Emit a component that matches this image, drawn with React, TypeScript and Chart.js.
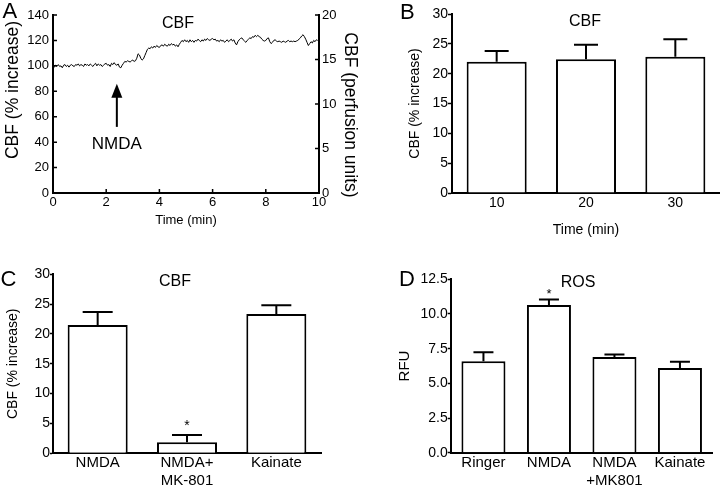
import React, { useEffect, useRef } from "react";
import { Chart, registerables } from "chart.js";

Chart.register(...registerables);

const FONT = "'Liberation Sans', Arial, Helvetica, sans-serif";
Chart.defaults.font.family = FONT;
Chart.defaults.color = "#000";

// ---------- Panel A: CBF time course ----------
const A_TIME = [
  0, 0.05, 0.1, 0.15, 0.2, 0.25, 0.3, 0.35, 0.4, 0.45,
  0.5, 0.55, 0.6, 0.65, 0.7, 0.75, 0.8, 0.85, 0.9, 0.95,
  1.0, 1.05, 1.1, 1.15, 1.2, 1.25, 1.3, 1.35, 1.4, 1.45,
  1.5, 1.55, 1.6, 1.65, 1.7, 1.75, 1.8, 1.85, 1.9, 1.95,
  2.0, 2.05, 2.1, 2.15, 2.2, 2.25, 2.3, 2.35, 2.4, 2.45,
  2.5, 2.55, 2.6, 2.65, 2.7, 2.75, 2.8, 2.85, 2.9, 2.95,
  3.0, 3.05, 3.1, 3.15, 3.2, 3.25, 3.3, 3.35, 3.4, 3.45,
  3.5, 3.55, 3.6, 3.65, 3.7, 3.75, 3.8, 3.85, 3.9, 3.95,
  4.0, 4.05, 4.1, 4.15, 4.2, 4.25, 4.3, 4.35, 4.4, 4.45,
  4.5, 4.55, 4.6, 4.65, 4.7, 4.75, 4.8, 4.85, 4.9, 4.95,
  5.0, 5.05, 5.1, 5.15, 5.2, 5.25, 5.3, 5.35, 5.4, 5.45,
  5.5, 5.55, 5.6, 5.65, 5.7, 5.75, 5.8, 5.85, 5.9, 5.95,
  6.0, 6.05, 6.1, 6.15, 6.2, 6.25, 6.3, 6.35, 6.4, 6.45,
  6.5, 6.55, 6.6, 6.65, 6.7, 6.75, 6.8, 6.85, 6.9, 6.95,
  7.0, 7.05, 7.1, 7.15, 7.2, 7.25, 7.3, 7.35, 7.4, 7.45,
  7.5, 7.55, 7.6, 7.65, 7.7, 7.75, 7.8, 7.85, 7.9, 7.95,
  8.0, 8.05, 8.1, 8.15, 8.2, 8.25, 8.3, 8.35, 8.4, 8.45,
  8.5, 8.55, 8.6, 8.65, 8.7, 8.75, 8.8, 8.85, 8.9, 8.95,
  9.0, 9.05, 9.1, 9.15, 9.2, 9.25, 9.3, 9.35, 9.4, 9.45,
  9.5, 9.55, 9.6, 9.65, 9.7, 9.75, 9.8, 9.85, 9.9, 9.95,
];
const A_CBF = [
  100, 99, 100.5, 99.5, 101, 99.5, 100, 98.5, 100.5, 101,
  99.5, 100.5, 99, 100.5, 101, 100, 99.5, 101, 100.5, 101.5,
  100, 101, 100.5, 99.5, 101.5, 100.5, 101, 100, 101.5, 100.5,
  99.5, 101, 102, 100, 101.5, 100.5, 101, 99.5, 100.5, 101.5,
  102, 100.5, 101, 99.5, 102, 101, 102.5, 101, 100.5, 101.5,
  99, 98.5, 100.5, 102, 103.5, 103, 104, 103.5, 103, 104,
  104.5, 103.5, 104, 106, 109.5, 108.5, 106, 104.5, 105.5, 108,
  110.5, 113, 114, 113.5, 115, 114, 115.5, 114.5, 116, 115,
  114.5, 116, 116.5, 115.5, 117, 116, 115.5, 117, 116, 117.5,
  116.5, 117, 115.5, 116.5, 115, 117, 118.5, 120, 119, 120.5,
  119, 120, 118.5, 120.5, 119, 120, 118.5, 120, 119.5, 121,
  120, 119, 120.5, 119.5, 121, 120, 121.5, 120.5, 120, 121,
  121.5, 120.5, 121, 119.5, 120, 119, 120.5, 119.5, 120, 118.5,
  119.5, 120.5, 119, 120, 121, 119.5, 120.5, 118, 116.5, 119,
  120.5, 121.5, 122, 120.5, 119.5, 118.5, 120, 121, 122, 121.5,
  123, 122.5, 124, 123, 124, 123, 122.5, 121, 120, 119.5,
  120, 121.5, 122, 119, 117.5, 118.5, 120, 120.5, 119.5, 119,
  119.5, 119, 118.5, 119.5, 119, 118.5, 119.5, 120, 119, 119.5,
  119, 119.5, 119, 119.5, 120, 121, 122, 123.5, 124.5, 123,
  121, 118.5, 116, 117.5, 119, 118, 120, 119, 120.5, 120,
];
const A_NMDA_TIME = 2.4;
const A_ARROW_TIP = 86;
const A_ARROW_BASE = 52;
const A_LABEL_LEVEL = 38.5;

// ---------- Panel B ----------
const B_CATEGORIES = ["10", "20", "30"];
const B_MEAN = [22.0, 22.4, 22.85];
const B_SEM = [1.8, 2.45, 2.9];

// ---------- Panel C ----------
const C_CATEGORIES: (string | string[])[] = ["NMDA", ["NMDA+", "MK-801"], "Kainate"];
const C_MEAN = [21.5, 1.85, 23.35];
const C_SEM = [2.2, 1.2, 1.45];
const C_SIG = [false, true, false];

// ---------- Panel D ----------
const D_CATEGORIES: (string | string[])[] = ["Ringer", "NMDA", ["NMDA", "+MK801"], "Kainate"];
const D_MEAN = [6.6, 10.65, 6.9, 6.1];
const D_SEM = [0.65, 0.4, 0.17, 0.46];
const D_SIG = [false, true, false, false];

// ---------- plugins ----------
const panelTitlePlugin = {
  id: "panelTitle",
  afterDraw(chart: any, _a: any, opts: any) {
    if (!opts || !opts.text) return;
    const { ctx, chartArea: ca } = chart;
    ctx.save();
    ctx.fillStyle = "#000";
    ctx.font = `${opts.size}px ${FONT}`;
    ctx.textAlign = "center";
    ctx.textBaseline = "middle";
    ctx.fillText(opts.text, ca.left + opts.fx * (ca.right - ca.left), ca.top + opts.dy);
    ctx.restore();
  },
};

const sideTitlesPlugin = {
  id: "sideTitles",
  afterDraw(chart: any, _a: any, opts: any) {
    if (!opts || !opts.items) return;
    const { ctx, chartArea: ca } = chart;
    opts.items.forEach((it: any) => {
      ctx.save();
      ctx.fillStyle = "#000";
      ctx.font = `${it.size}px ${FONT}`;
      ctx.textAlign = "center";
      ctx.textBaseline = "middle";
      const x = it.side === "left" ? ca.left + it.dx : ca.right + it.dx;
      ctx.translate(x, ca.top + it.dy);
      ctx.rotate(it.side === "left" ? -Math.PI / 2 : Math.PI / 2);
      ctx.fillText(it.text, 0, 0);
      ctx.restore();
    });
  },
};

const errorBarsPlugin = {
  id: "errorBars",
  afterDatasetsDraw(chart: any, _a: any, opts: any) {
    if (!opts || !opts.sem) return;
    const { ctx } = chart;
    const y = chart.scales.y;
    const meta = chart.getDatasetMeta(0);
    const data = chart.data.datasets[0].data;
    ctx.save();
    ctx.strokeStyle = "#000";
    ctx.lineWidth = 2;
    ctx.fillStyle = "#000";
    meta.data.forEach((bar: any, i: number) => {
      const top = y.getPixelForValue(data[i] + opts.sem[i]);
      ctx.beginPath();
      ctx.moveTo(bar.x, bar.y);
      ctx.lineTo(bar.x, top);
      ctx.moveTo(bar.x - opts.cap / 2, top);
      ctx.lineTo(bar.x + opts.cap / 2, top);
      ctx.stroke();
      if (opts.sig && opts.sig[i]) {
        ctx.font = `${opts.starSize}px ${FONT}`;
        ctx.textAlign = "center";
        ctx.textBaseline = "alphabetic";
        ctx.fillText("*", bar.x, top - opts.starGap);
      }
    });
    ctx.restore();
  },
};

const inwardTicksPlugin = {
  id: "inwardTicks",
  afterDraw(chart: any, _a: any, opts: any) {
    if (!opts || !opts.length) return;
    const { ctx, chartArea: ca, scales } = chart;
    const L = opts.length;
    ctx.save();
    ctx.strokeStyle = "#000";
    ctx.lineWidth = 1.5;
    ctx.beginPath();
    scales.x.ticks.forEach((t: any) => {
      const px = scales.x.getPixelForValue(t.value);
      ctx.moveTo(px, ca.bottom);
      ctx.lineTo(px, ca.bottom - L);
    });
    scales.y.ticks.forEach((t: any) => {
      const py = scales.y.getPixelForValue(t.value);
      ctx.moveTo(ca.left, py);
      ctx.lineTo(ca.left + L, py);
    });
    scales.y2.ticks.forEach((t: any) => {
      const py = scales.y2.getPixelForValue(t.value);
      ctx.moveTo(ca.right, py);
      ctx.lineTo(ca.right - L, py);
    });
    ctx.stroke();
    ctx.restore();
  },
};

const arrowPlugin = {
  id: "nmdaArrow",
  afterDraw(chart: any, _a: any, opts: any) {
    if (!opts || opts.time === undefined) return;
    const { ctx, scales } = chart;
    const x = scales.x.getPixelForValue(opts.time);
    const tip = scales.y.getPixelForValue(opts.tip);
    const base = scales.y.getPixelForValue(opts.base);
    const lbl = scales.y.getPixelForValue(opts.label);
    ctx.save();
    ctx.strokeStyle = "#000";
    ctx.fillStyle = "#000";
    ctx.lineWidth = 2;
    ctx.beginPath();
    ctx.moveTo(x, base);
    ctx.lineTo(x, tip + 10);
    ctx.stroke();
    ctx.beginPath();
    ctx.moveTo(x, tip);
    ctx.lineTo(x - 5.5, tip + 14);
    ctx.lineTo(x + 5.5, tip + 14);
    ctx.closePath();
    ctx.fill();
    ctx.font = `17px ${FONT}`;
    ctx.textAlign = "center";
    ctx.textBaseline = "middle";
    ctx.fillText("NMDA", x, lbl);
    ctx.restore();
  },
};

const axisBorder = { display: true, color: "#000", width: 2 };
const outTicksGrid = (len: number) => ({
  display: true,
  drawOnChartArea: false,
  drawTicks: true,
  tickLength: len,
  tickColor: "#000",
  tickWidth: 1.5,
});

function barConfig(p: any) {
  return {
    type: "bar",
    data: {
      labels: p.labels,
      datasets: [
        {
          data: p.mean,
          backgroundColor: "#fff",
          borderColor: "#000",
          borderWidth: 2,
          borderSkipped: "start",
          categoryPercentage: 1,
          barPercentage: p.barPct,
        },
      ],
    },
    options: {
      animation: false,
      responsive: false,
      events: [],
      layout: { padding: { left: 0, top: p.padTop, right: p.padRight, bottom: 0 } },
      plugins: {
        legend: { display: false },
        tooltip: { enabled: false },
        panelTitle: { text: p.title, fx: p.titleFx, dy: p.titleDy, size: 16 },
        errorBars: { sem: p.sem, cap: p.cap, sig: p.sig, starSize: p.starSize || 14, starGap: p.starGap || 4 },
      },
      scales: {
        x: {
          z: 1,
          grid: { display: false, drawTicks: false },
          border: axisBorder,
          ticks: { color: "#000", font: { size: p.xTickSize }, padding: p.xTickPad, maxRotation: 0, autoSkip: false },
          title: p.xTitle
            ? { display: true, text: p.xTitle, color: "#000", font: { size: p.xTickSize }, padding: { top: 0, bottom: p.xTitlePad } }
            : { display: false },
          afterFit: (s: any) => {
            s.height = p.xHeight;
          },
        },
        y: {
          z: 1,
          min: 0,
          max: p.yMax,
          grid: outTicksGrid(p.yTickLen),
          border: axisBorder,
          ticks: {
            stepSize: p.yStep,
            color: "#000",
            font: { size: p.yTickSize },
            padding: 0,
            callback: (v: number) => (p.yDecimals ? v.toFixed(p.yDecimals) : String(v)),
          },
          title: { display: true, text: p.yTitle, color: "#000", font: { size: p.yTitleSize }, padding: { top: p.yTitlePad, bottom: 0 } },
          afterFit: (s: any) => {
            s.width = p.yWidth;
          },
        },
      },
    },
    plugins: [panelTitlePlugin, errorBarsPlugin],
  };
}

function configA() {
  return {
    type: "line",
    data: {
      datasets: [
        {
          data: A_TIME.map((t, i) => ({ x: t, y: A_CBF[i] })),
          borderColor: "#000",
          borderWidth: 1,
          pointRadius: 0,
          tension: 0,
          yAxisID: "y",
        },
      ],
    },
    options: {
      animation: false,
      responsive: false,
      events: [],
      layout: { padding: { left: 0, top: 15, right: 0, bottom: 0 } },
      plugins: {
        legend: { display: false },
        tooltip: { enabled: false },
        panelTitle: { text: "CBF", fx: 0.47, dy: 8.5, size: 16 },
        inwardTicks: { length: 4 },
        nmdaArrow: { time: A_NMDA_TIME, tip: A_ARROW_TIP, base: A_ARROW_BASE, label: A_LABEL_LEVEL },
        sideTitles: {
          items: [
            { side: "left", text: "CBF (% increase)", size: 17.5, dx: -39.5, dy: 75 },
            { side: "right", text: "CBF (perfusion units)", size: 17.5, dx: 30.5, dy: 100 },
          ],
        },
      },
      scales: {
        x: {
          type: "linear",
          min: 0,
          max: 10,
          grid: { display: false, drawTicks: false },
          border: axisBorder,
          ticks: { stepSize: 2, color: "#000", font: { size: 13 }, padding: 2 },
          title: { display: true, text: "Time (min)", color: "#000", font: { size: 13 }, padding: { top: 0, bottom: 12.2 } },
          afterFit: (s: any) => {
            s.height = 47;
          },
        },
        y: {
          position: "left",
          min: 0,
          max: 140,
          grid: { display: false, drawTicks: false },
          border: axisBorder,
          ticks: { stepSize: 20, color: "#000", font: { size: 13 }, padding: 4 },
          title: { display: false },
          afterFit: (s: any) => {
            s.width = 53;
          },
        },
        y2: {
          position: "right",
          min: 0,
          max: 20,
          grid: { display: false, drawTicks: false },
          border: axisBorder,
          ticks: { stepSize: 5, color: "#000", font: { size: 13 }, padding: 3 },
          title: { display: false },
          afterFit: (s: any) => {
            s.width = 41;
          },
        },
      },
    },
    plugins: [panelTitlePlugin, inwardTicksPlugin, arrowPlugin, sideTitlesPlugin],
  };
}

function configB() {
  return barConfig({
    labels: B_CATEGORIES,
    mean: B_MEAN,
    sem: B_SEM,
    yMax: 30,
    yStep: 5,
    yTitle: "CBF (% increase)",
    yTitleSize: 14,
    yTitlePad: 46.6,
    xTitle: "Time (min)",
    xTitlePad: 6.6,
    xTickSize: 14,
    yTickSize: 14,
    xTickPad: 1.6,
    yTickLen: 4,
    yWidth: 92,
    xHeight: 52,
    padTop: 14,
    padRight: 0,
    barPct: 0.672,
    cap: 24,
    title: "CBF",
    titleFx: 0.496,
    titleDy: 8,
  });
}

function configC() {
  return barConfig({
    labels: C_CATEGORIES,
    mean: C_MEAN,
    sem: C_SEM,
    sig: C_SIG,
    yMax: 30,
    yStep: 5,
    yTitle: "CBF (% increase)",
    yTitleSize: 14,
    yTitlePad: 4.9,
    xTickSize: 15,
    yTickSize: 14,
    xTickPad: 0.7,
    yTickLen: 3,
    yWidth: 53,
    xHeight: 35.7,
    padTop: 29.3,
    padRight: 39,
    barPct: 0.672,
    cap: 30,
    title: "CBF",
    titleFx: 0.455,
    titleDy: 7.7,
    starSize: 14,
    starGap: 5,
  });
}

function configD() {
  return barConfig({
    labels: D_CATEGORIES,
    mean: D_MEAN,
    sem: D_SEM,
    sig: D_SIG,
    yMax: 12.5,
    yStep: 2.5,
    yDecimals: 1,
    yTitle: "RFU",
    yTitleSize: 15,
    yTitlePad: 36,
    xTickSize: 15,
    yTickSize: 14,
    xTickPad: 1.3,
    yTickLen: 3,
    yWidth: 90.7,
    xHeight: 36.3,
    padTop: 34.3,
    padRight: 7.3,
    barPct: 0.672,
    cap: 20,
    title: "ROS",
    titleFx: 0.486,
    titleDy: 3.7,
    starSize: 13,
    starGap: 1.5,
  });
}

function ChartCanvas({ make, left, top, width, height }: any) {
  const ref = useRef<HTMLCanvasElement>(null);
  useEffect(() => {
    const chart = new Chart(ref.current as HTMLCanvasElement, make());
    return () => chart.destroy();
  }, []);
  return (
    <div style={{ position: "absolute", left, top, width, height }}>
      <canvas ref={ref} width={width} height={height} style={{ display: "block", width, height }} />
    </div>
  );
}

const letterStyle = (left: number, top: number): React.CSSProperties => ({
  position: "absolute",
  left,
  top,
  fontFamily: FONT,
  fontSize: 22,
  lineHeight: "22px",
  color: "#000",
});

export default function App() {
  return (
    <div style={{ position: "absolute", left: 0, top: 0, width: 720, height: 489, background: "#fff", overflow: "hidden" }}>
      <ChartCanvas make={configA} left={0} top={0} width={360} height={240} />
      <ChartCanvas make={configB} left={360} top={0} width={360} height={245} />
      <ChartCanvas make={configC} left={0} top={245} width={360} height={244} />
      <ChartCanvas make={configD} left={360} top={245} width={360} height={244} />
      <div style={letterStyle(2.5, -0.3)}>A</div>
      <div style={letterStyle(400, 1.4)}>B</div>
      <div style={letterStyle(0.6, 268)}>C</div>
      <div style={letterStyle(399, 268)}>D</div>
    </div>
  );
}
